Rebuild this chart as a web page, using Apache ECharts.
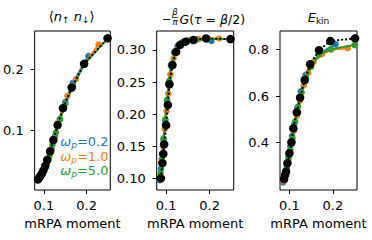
<!DOCTYPE html>
<html><head><meta charset="utf-8">
<script src="https://cdn.jsdelivr.net/npm/echarts@6/dist/echarts.min.js"></script>
<style>html,body{margin:0;padding:0;background:#fff}#c{width:372px;height:240px}</style>
</head><body><div id="c"></div>
<script>
// ---------- data ----------
const seriesNames = ['ωp=0.2', 'ωp=1.0', 'ωp=5.0', 'mRPA'];
const legendValues = ['0.2', '1.0', '5.0'];
const colors = ['#1f77b4', '#ff7f0e', '#2ca02c', '#000000'];
const xTicks = [0.1, 0.2];
const nnTicks = [0.1, 0.2];
const gTicks = [0.10, 0.15, 0.20, 0.25, 0.30];
const eTicks = [0.4, 0.6, 0.8];
const xLabel = 'mRPA moment';

// panel 1: <n_up n_down>
const nnX_w02 = [0.085,0.088,0.091,0.094,0.098,0.102,0.106,0.111,0.118,0.126,0.137,0.150,0.168,0.204];
const nnY_w02 = [0.017,0.020,0.023,0.026,0.031,0.037,0.044,0.053,0.069,0.090,0.118,0.146,0.178,0.222];
const nnX_w10 = [0.086,0.089,0.093,0.097,0.101,0.105,0.110,0.117,0.124,0.133,0.143,0.155,0.175,0.196,0.228];
const nnY_w10 = [0.018,0.021,0.025,0.030,0.035,0.042,0.052,0.067,0.086,0.112,0.134,0.156,0.184,0.210,0.241];
const nnX_w50 = [0.087,0.090,0.094,0.098,0.102,0.107,0.113,0.120,0.128,0.138,0.150,0.168,0.195,0.250];
const nnY_w50 = [0.019,0.022,0.026,0.031,0.037,0.046,0.058,0.076,0.096,0.118,0.143,0.172,0.209,0.251];
const nnX_ref = [0.086,0.089,0.092,0.0954,0.099,0.103,0.1076,0.1145,0.122,0.132,0.1446,0.165,0.194,0.249];
const nnY_ref = [0.0188,0.0214,0.0247,0.0287,0.034,0.0407,0.0506,0.065,0.0835,0.108,0.136,0.170,0.209,0.251];

// panel 2: -beta/pi G(tau=beta/2)
const gX_w02 = [0.085,0.088,0.091,0.094,0.098,0.102,0.106,0.111,0.118,0.126,0.137,0.150,0.172,0.204];
const gY_w02 = [0.097,0.115,0.138,0.160,0.190,0.222,0.250,0.276,0.296,0.306,0.312,0.315,0.317,0.314];
const gX_w10 = [0.086,0.089,0.093,0.097,0.101,0.105,0.110,0.117,0.124,0.133,0.143,0.155,0.175,0.196,0.222];
const gY_w10 = [0.104,0.125,0.150,0.177,0.205,0.232,0.262,0.287,0.300,0.308,0.313,0.316,0.317,0.318,0.318];
const gX_w50 = [0.087,0.090,0.094,0.098,0.102,0.107,0.113,0.120,0.128,0.138,0.150,0.168,0.195,0.250];
const gY_w50 = [0.108,0.130,0.162,0.192,0.222,0.252,0.278,0.295,0.305,0.311,0.314,0.316,0.317,0.317];
const gX_ref = [0.0878,0.0915,0.0935,0.0954,0.100,0.104,0.1076,0.1146,0.123,0.132,0.1446,0.163,0.192,0.248];
const gY_ref = [0.100,0.1236,0.138,0.153,0.183,0.2144,0.2466,0.2766,0.297,0.308,0.313,0.3156,0.318,0.317];

// panel 3: E_kin
const eX_w02 = [0.085,0.088,0.091,0.094,0.098,0.102,0.106,0.111,0.118,0.126,0.137,0.150,0.172,0.206];
const eY_w02 = [0.23,0.25,0.27,0.30,0.34,0.385,0.43,0.48,0.55,0.62,0.69,0.74,0.785,0.822];
const eX_w10 = [0.086,0.089,0.093,0.097,0.101,0.105,0.110,0.117,0.124,0.133,0.143,0.155,0.175,0.196,0.234];
const eY_w10 = [0.235,0.255,0.28,0.315,0.355,0.395,0.45,0.515,0.58,0.645,0.70,0.745,0.78,0.798,0.805];
const eX_w50 = [0.087,0.090,0.094,0.098,0.102,0.107,0.113,0.120,0.128,0.138,0.150,0.168,0.195,0.250];
const eY_w50 = [0.24,0.26,0.29,0.33,0.37,0.42,0.49,0.555,0.615,0.675,0.725,0.776,0.800,0.818];
const eX_ref = [0.0876,0.090,0.0922,0.0954,0.100,0.1046,0.109,0.117,0.1245,0.135,0.1476,0.168,0.194,0.251];
const eY_ref = [0.2445,0.262,0.276,0.312,0.3546,0.4017,0.4616,0.530,0.593,0.6685,0.736,0.796,0.8355,0.847];

// ---------- layout ----------
const FONT = 'DejaVu Sans';
const FS = 13;
const panels = [
  { left: 33.3, xs: [nnX_w02, nnX_w10, nnX_w50, nnX_ref], ys: [nnY_w02, nnY_w10, nnY_w50, nnY_ref],
    ymin: 0.0012, ymax: 0.2631, ticks: nnTicks, dec: 1 },
  { left: 156.7, xs: [gX_w02, gX_w10, gX_w50, gX_ref], ys: [gY_w02, gY_w10, gY_w50, gY_ref],
    ymin: 0.0818, ymax: 0.3296, ticks: gTicks, dec: 2 },
  { left: 280, xs: [eX_w02, eX_w10, eX_w50, eX_ref], ys: [eY_w02, eY_w10, eY_w50, eY_ref],
    ymin: 0.1974, ymax: 0.8784, ticks: eTicks, dec: 1 }
];
const TOP = 31, HEIGHT = 159, WIDTH = 77;

const grid = [], xAxis = [], yAxis = [], series = [];
panels.forEach((p, i) => {
  grid.push({ left: p.left, top: TOP, width: WIDTH, height: HEIGHT, show: true,
    borderColor: '#000', borderWidth: 1, backgroundColor: 'transparent', containLabel: false });
  xAxis.push({ type: 'value', gridIndex: i, min: 0.0783, max: 0.2554,
    axisLine: { show: false },
    axisTick: { show: true, length: 4, customValues: xTicks, lineStyle: { color: '#000', width: 1 } },
    axisLabel: { customValues: xTicks, formatter: v => v.toFixed(1), color: '#000', fontSize: FS, fontFamily: FONT, margin: 9 },
    splitLine: { show: false },
    name: xLabel, nameLocation: 'middle', nameGap: 27,
    nameTextStyle: { color: '#000', fontSize: FS, fontFamily: FONT } });
  yAxis.push({ type: 'value', gridIndex: i, min: p.ymin, max: p.ymax,
    axisLine: { show: false },
    axisTick: { show: true, length: 4, customValues: p.ticks, lineStyle: { color: '#000', width: 1 } },
    axisLabel: { customValues: p.ticks, formatter: v => v.toFixed(p.dec), color: '#000', fontSize: FS, fontFamily: FONT, margin: 11 },
    splitLine: { show: false } });
  for (let s = 0; s < 4; s++) {
    const isRef = s === 3;
    series.push({
      name: seriesNames[s], type: 'line', xAxisIndex: i, yAxisIndex: i,
      data: p.xs[s].map((x, k) => [x, p.ys[s][k]]),
      symbol: 'circle', symbolSize: isRef ? 8.5 : 6.5, showSymbol: true,
      itemStyle: { color: colors[s], borderWidth: 0 },
      lineStyle: { color: colors[s], width: 2, type: isRef ? 'dotted' : 'solid' },
      z: 2 + s, animation: false, silent: true, clip: false
    });
  }
});

// ---------- titles & legend text ----------
const graphic = [];
// panel 1 title
graphic.push({ type: 'text', x: 71.7, y: 16, style: {
  text: '{a|⟨}{i|n}{s|↑}{i| n}{s|↓}{a|⟩}', align: 'center', verticalAlign: 'middle', fill: '#000',
  rich: { a: { fontSize: FS, fontFamily: FONT, fill: '#000' },
          i: { fontSize: FS, fontFamily: FONT, fontStyle: 'italic', fill: '#000' },
          s: { fontSize: 9, fontFamily: FONT, fill: '#000', padding: [7, 0, 0, 0] } } } });
// panel 2 title
graphic.push({ type: 'text', x: 162, y: 19, style: { text: '−', align: 'left', verticalAlign: 'middle',
  fontSize: 11, fontFamily: FONT, fill: '#000' } });
graphic.push({ type: 'text', x: 175, y: 12, style: { text: 'β', align: 'center', verticalAlign: 'middle',
  fontSize: 8.5, lineHeight: 8, fontFamily: FONT, fontStyle: 'italic', fill: '#000' } });
graphic.push({ type: 'line', shape: { x1: 172, y1: 17.5, x2: 178, y2: 17.5 }, style: { stroke: '#000', lineWidth: 0.7 } });
graphic.push({ type: 'text', x: 175, y: 22, style: { text: 'π', align: 'center', verticalAlign: 'middle',
  fontSize: 8.5, lineHeight: 8, fontFamily: FONT, fontStyle: 'italic', fill: '#000' } });
graphic.push({ type: 'text', x: 179.5, y: 19, style: {
  text: '{i|G}{a|(}{i|τ}{a| = }{i|β}{a|/2)}', align: 'left', verticalAlign: 'middle',
  rich: { a: { fontSize: 12.5, fontFamily: FONT, fill: '#000' },
          i: { fontSize: 12.5, fontFamily: FONT, fontStyle: 'italic', fill: '#000' } } } });
// panel 3 title
graphic.push({ type: 'text', x: 318.5, y: 17, style: {
  text: '{i|E}{s|kin}', align: 'center', verticalAlign: 'middle',
  rich: { i: { fontSize: FS, fontFamily: FONT, fontStyle: 'italic', fill: '#000' },
          s: { fontSize: 9, fontFamily: FONT, fill: '#000', padding: [7, 0, 0, 0] } } } });
// legend (text only, coloured)
const legendY = [141.5, 156, 170.5];
legendValues.forEach((v, k) => {
  const c = colors[k];
  graphic.push({ type: 'text', x: 108.5, y: legendY[k], style: {
    text: '{w|ω}{p|p}{n|=' + v + '}', align: 'right', verticalAlign: 'middle',
    rich: { w: { fontSize: FS, fontFamily: FONT, fontStyle: 'italic', fill: c },
            p: { fontSize: 9, fontFamily: FONT, fontStyle: 'italic', fill: c, padding: [7, 0, 0, 0] },
            n: { fontSize: FS, fontFamily: FONT, fill: c } } } });
});

const chart = echarts.init(document.getElementById('c'), null, { renderer: 'svg' });
chart.setOption({ animation: false, backgroundColor: '#fff', grid, xAxis, yAxis, series, graphic });
</script>
</body></html>
